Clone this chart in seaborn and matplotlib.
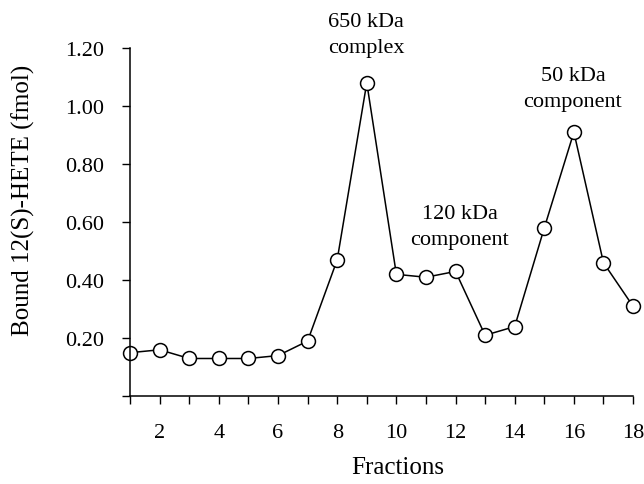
import matplotlib
matplotlib.use("Agg")
import matplotlib.pyplot as plt
import seaborn as sns
import pandas as pd

fractions = list(range(1, 19))
bound = [0.15, 0.16, 0.13, 0.13, 0.13, 0.14, 0.19, 0.47, 1.08, 0.42, 0.41, 0.43,
         0.21, 0.24, 0.58, 0.91, 0.46, 0.31]
y_ticks = [0.2, 0.4, 0.6, 0.8, 1.0, 1.2]
y_tick_labels = ["0.20", "0.40", "0.60", "0.80", "1.00", "1.20"]
annotations = [("650 kDa\ncomplex", 8.97, 1.245), ("120 kDa\ncomponent", 12.15, 0.586),
               ("50 kDa\ncomponent", 15.97, 1.059)]

df = pd.DataFrame({"Fractions": fractions, "Bound": bound})

sns.set_style("ticks")
plt.rcParams["font.family"] = ["Liberation Serif", "DejaVu Serif"]
plt.rcParams["text.color"] = "black"
plt.rcParams["axes.labelcolor"] = "black"

fig = plt.figure(figsize=(6.44, 4.85), dpi=100)
ax = fig.add_axes([0.202, 0.181, 0.781, 0.718])
sns.lineplot(data=df, x="Fractions", y="Bound", ax=ax, color="black", linewidth=1.1,
             marker="o", markersize=10, markerfacecolor="white",
             markeredgecolor="black", markeredgewidth=1.1, clip_on=False)

ax.set_xlim(1, 18)
ax.set_ylim(0, 1.2)
ax.set_xticks(fractions)
ax.set_xticklabels([str(f) if f % 2 == 0 else "" for f in fractions])
ax.set_yticks([0] + y_ticks)
ax.set_yticklabels([""] + y_tick_labels)
ax.tick_params(axis="both", labelsize=16, length=6, width=1, colors="black", direction="out")
ax.tick_params(axis="x", pad=13)
ax.tick_params(axis="y", pad=13)
for s in ["top", "right"]:
    ax.spines[s].set_visible(False)
for s in ["left", "bottom"]:
    ax.spines[s].set_linewidth(1.1)
    ax.spines[s].set_color("black")
ax.set_xlabel("Fractions", fontsize=18, color="black")
ax.set_ylabel("Bound 12(S)-HETE (fmol)", fontsize=18, color="black")
ax.xaxis.set_label_coords(0.533, -0.172)
ax.yaxis.set_label_coords(-0.19, 0.566)

for text, x, y in annotations:
    ax.text(x, y, text, ha="center", va="center", fontsize=16, linespacing=1.5,
            color="black", clip_on=False)

fig.savefig("out.png", dpi=100)
